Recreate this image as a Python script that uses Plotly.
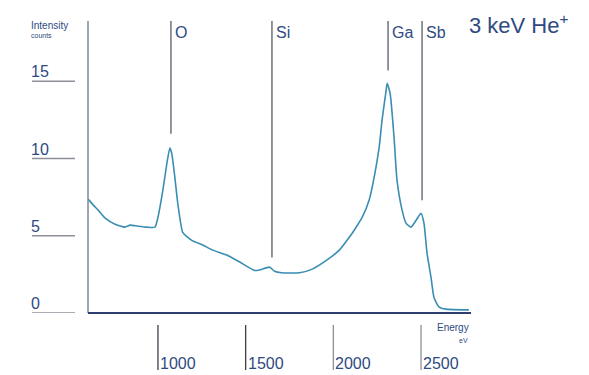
import plotly.graph_objects as go

# ---- data ----
energy_ev = [602, 630, 659, 699, 755, 812, 841, 886, 937, 983, 1000, 1028, 1051, 1068, 1079,
             1096, 1113, 1142, 1193, 1255, 1312, 1392, 1466, 1551, 1579, 1636, 1665, 1704,
             1807, 1880, 1960, 2034, 2091, 2119, 2165, 2204, 2233, 2261, 2278, 2301, 2307,
             2324, 2346, 2363, 2392, 2415, 2443, 2472, 2500, 2517, 2534, 2557, 2574, 2602,
             2642, 2773]
counts = [7.37, 7.0, 6.66, 6.14, 5.75, 5.56, 5.69, 5.62, 5.56, 5.56, 6.2, 7.95, 9.7, 10.7, 10.3,
          8.8, 7.1, 5.2, 4.7, 4.4, 4.07, 3.75, 3.3, 2.75, 2.78, 2.97, 2.7, 2.6,
          2.6, 2.84, 3.4, 4.07, 4.9, 5.36, 6.2, 7.3, 8.8, 10.7, 12.5, 14.4, 14.87,
          14.2, 11.4, 8.6, 6.66, 5.8, 5.56, 6.0, 6.46, 5.8, 3.9, 2.3, 1.0, 0.4,
          0.25, 0.2]

elements = ["O", "Si", "Ga", "Sb"]
element_energy = [1074, 1650, 2312, 2506]
element_line_bottom = [11.6, 3.6, 15.7, 7.3]

y_ticks = [0, 5, 10, 15]
x_ticks = [1000, 1500, 2000, 2500]

title_text = "3 keV He<sup>+</sup>"

# ---- style ----
TEXT = "#2f4a82"
CURVE = "#3a8db3"
GRAY = "#8c9098"
FONT = "Liberation Sans"

fig = go.Figure()
fig.add_trace(go.Scatter(x=energy_ev, y=counts, mode="lines",
                         line=dict(color=CURVE, width=1.6, shape="spline", smoothing=0.5),
                         hoverinfo="skip", showlegend=False))

shapes = []
annotations = []

# axes lines
shapes.append(dict(type="line", xref="paper", yref="paper", x0=0, x1=0, y0=0, y1=1,
                   line=dict(color="#7d8796", width=1.5)))
shapes.append(dict(type="line", xref="paper", yref="paper", x0=0, x1=1, y0=0, y1=0,
                   line=dict(color="#2d3f6e", width=2)))

# y ticks (line under label)
for v in y_ticks:
    shapes.append(dict(type="line", xref="paper", yref="y", x0=-0.146, x1=-0.034, y0=v, y1=v,
                       line=dict(color=GRAY, width=1.5)))
    annotations.append(dict(xref="paper", yref="y", x=-0.153, y=v, text=str(v),
                            showarrow=False, xanchor="left", yanchor="bottom", yshift=-1,
                            font=dict(size=16, color=TEXT, family=FONT)))

# x ticks (below axis)
for i, v in enumerate(x_ticks):
    shapes.append(dict(type="line", xref="x", yref="paper", x0=v, x1=v, y0=-0.041, y1=-0.195,
                       line=dict(color="#3b3f48" if i < 2 else GRAY, width=1.3)))
    annotations.append(dict(xref="x", yref="paper", x=v, y=-0.172, text=str(v),
                            showarrow=False, xanchor="left", yanchor="middle", xshift=0,
                            font=dict(size=16, color=TEXT, family=FONT)))

# element markers
for name, e, b in zip(elements, element_energy, element_line_bottom):
    shapes.append(dict(type="line", xref="x", yref="y", x0=e, x1=e, y0=b, y1=18.9,
                       line=dict(color="#555e6c", width=1.3)))
    annotations.append(dict(xref="x", yref="paper", x=e, y=1, text=name,
                            showarrow=False, xanchor="left", yanchor="top", xshift=2, yshift=-1,
                            font=dict(size=16, color=TEXT, family=FONT)))

# axis titles
annotations.append(dict(xref="paper", yref="paper", x=-0.153, y=0.983, text="Intensity",
                        showarrow=False, xanchor="left", yanchor="middle",
                        font=dict(size=10, color=TEXT, family=FONT)))
annotations.append(dict(xref="paper", yref="paper", x=-0.153, y=0.95, text="counts",
                        showarrow=False, xanchor="left", yanchor="middle",
                        font=dict(size=7, color=TEXT, family=FONT)))
annotations.append(dict(xref="paper", yref="paper", x=1.0, y=-0.05, text="Energy",
                        showarrow=False, xanchor="right", yanchor="middle",
                        font=dict(size=10, color=TEXT, family=FONT)))
annotations.append(dict(xref="paper", yref="paper", x=0.998, y=-0.095, text="eV",
                        showarrow=False, xanchor="right", yanchor="middle",
                        font=dict(size=7, color=TEXT, family=FONT)))

# title
annotations.append(dict(xref="paper", yref="paper", x=1.0, y=0.99, text=title_text,
                        showarrow=False, xanchor="left", yanchor="middle", xshift=-4,
                        font=dict(size=22, color=TEXT, family=FONT)))

fig.update_layout(
    width=589, height=375,
    margin=dict(l=88, r=118, t=21, b=62),
    paper_bgcolor="white", plot_bgcolor="white",
    xaxis=dict(range=[601, 2785], showgrid=False, zeroline=False, showticklabels=False,
               ticks="", showline=False, fixedrange=True),
    yaxis=dict(range=[0, 18.9], showgrid=False, zeroline=False, showticklabels=False,
               ticks="", showline=False, fixedrange=True),
    shapes=shapes, annotations=annotations, showlegend=False,
)

fig.write_html("out.html", config={"displayModeBar": False},
               post_script="document.body.style.margin='0';document.body.style.overflow='hidden';")
